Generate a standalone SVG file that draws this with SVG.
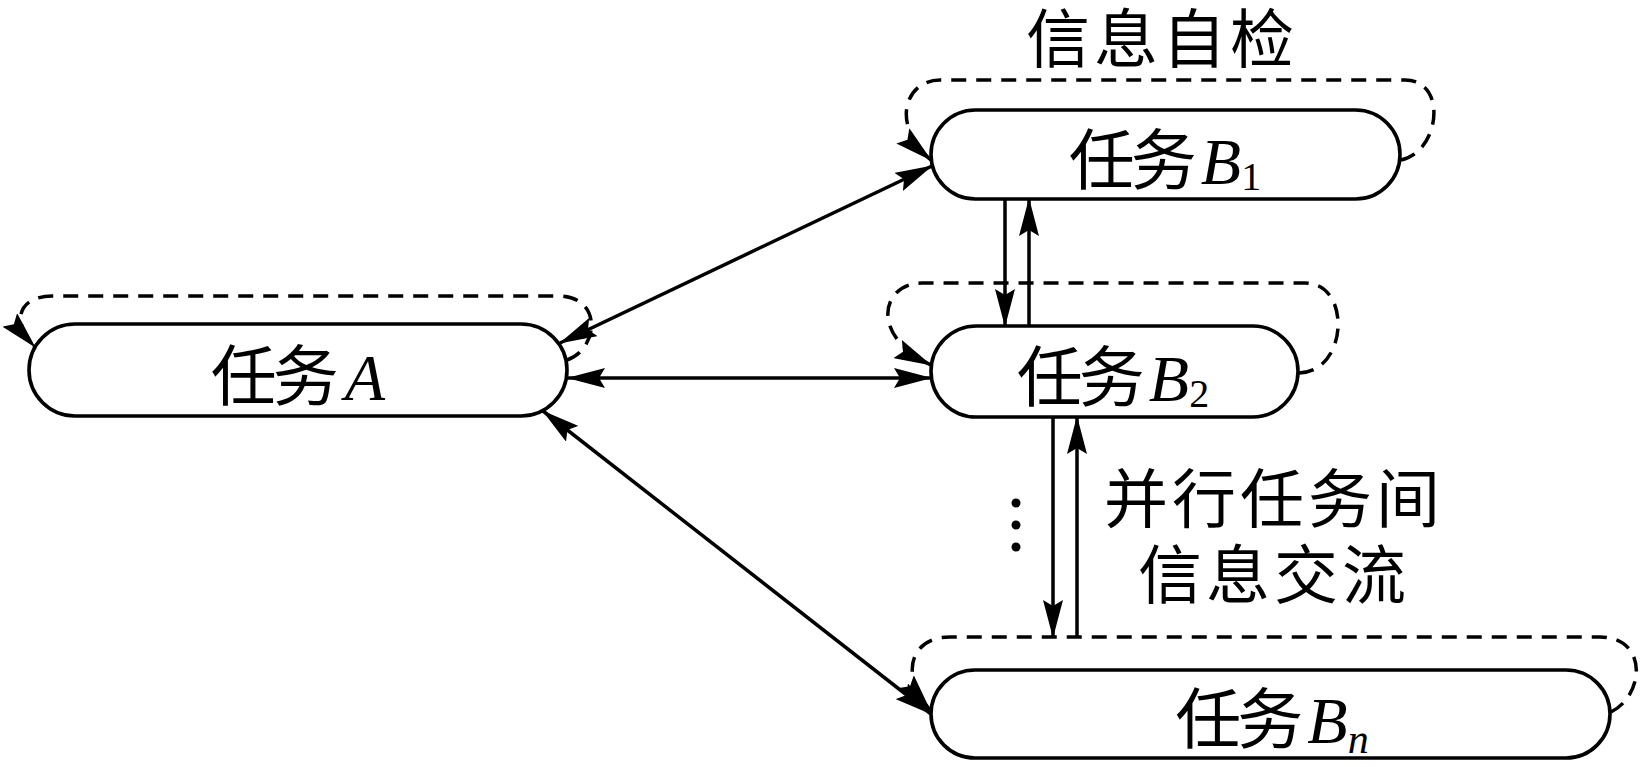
<svg xmlns="http://www.w3.org/2000/svg" width="1644" height="767" viewBox="0 0 1644 767">
<style>
.pill{fill:#fff;stroke:#000;stroke-width:3.6}
.ln{fill:none;stroke:#000;stroke-width:3.5}
.dash{fill:none;stroke:#000;stroke-width:3.5;stroke-dasharray:15 10}
.cjk{font-family:"Noto Sans CJK SC","Noto Sans CJK JP",sans-serif;fill:#000}
.lbl{font-size:66px;letter-spacing:-4px}
.note{font-size:64px;letter-spacing:4px}
.lat{font-family:"Liberation Serif","Times New Roman",serif;font-style:italic;font-size:66px;letter-spacing:0}
.sub{font-family:"Liberation Serif","Times New Roman",serif;font-style:normal;font-size:40px;letter-spacing:0}
.subi{font-family:"Liberation Serif","Times New Roman",serif;font-style:italic;font-size:42px;letter-spacing:0}
</style>
<defs>
<marker id="ah" viewBox="0 0 38 20" refX="37" refY="10" markerWidth="38" markerHeight="20" markerUnits="userSpaceOnUse" orient="auto-start-reverse">
<path d="M0,0 L38,10 L0,20 L6,10 Z" fill="#000"/>
</marker>
</defs>

<g id="title">
<text class="cjk note" x="1162" y="62" text-anchor="middle">信息自检</text>
</g>

<g id="nodeA">
<rect class="pill" x="29" y="324" width="538" height="92" rx="46" ry="46"/>
<text class="cjk lbl" x="298" y="400" text-anchor="middle">任务<tspan class="lat" dx="10">A</tspan></text>
</g>

<g id="nodeB1">
<rect class="pill" x="931" y="110" width="469" height="89" rx="44.5" ry="44.5"/>
<text class="cjk lbl" x="1165" y="184" text-anchor="middle">任务<tspan class="lat" dx="8">B</tspan><tspan class="sub" dy="6">1</tspan></text>
</g>

<g id="nodeB2">
<rect class="pill" x="931" y="326" width="367" height="91" rx="45.5" ry="45.5"/>
<text class="cjk lbl" x="1113" y="401" text-anchor="middle">任务<tspan class="lat" dx="8">B</tspan><tspan class="sub" dy="6">2</tspan></text>
</g>

<g id="nodeBn">
<rect class="pill" x="931" y="670" width="679" height="88" rx="44" ry="44"/>
<text class="cjk lbl" x="1272" y="743" text-anchor="middle">任务<tspan class="lat" dx="8">B</tspan><tspan class="subi" dy="10">n</tspan></text>
</g>

<g id="annotation">
<text class="cjk note" x="1274" y="522" text-anchor="middle">并行任务间</text>
<text class="cjk note" x="1274" y="598" text-anchor="middle">信息交流</text>
<circle cx="1016" cy="503" r="4.5" fill="#000"/>
<circle cx="1016" cy="525" r="4.5" fill="#000"/>
<circle cx="1016" cy="547" r="4.5" fill="#000"/>
</g>

<g id="connectors">
<path class="dash" d="M567,360 C598,350 604,296 558,296 L52,296 C22,296 8,318 35,347" marker-end="url(#ah)"/>
<path class="dash" d="M1401,160 C1440,152 1448,80 1405,80 L940,80 C905,80 890,125 931,160" marker-end="url(#ah)"/>
<path class="dash" d="M1299,373 C1348,372 1352,283 1305,283 L922,283 C882,283 868,335 931,365" marker-end="url(#ah)"/>
<path class="dash" d="M1611,712 C1645,695 1648,637 1600,637 L950,637 C912,637 898,672 930,710" marker-end="url(#ah)"/>
<path class="ln" d="M560,343 L932,166" marker-start="url(#ah)" marker-end="url(#ah)"/>
<path class="ln" d="M568,378 L931,378" marker-start="url(#ah)" marker-end="url(#ah)"/>
<path class="ln" d="M543,411 L931,714" marker-start="url(#ah)" marker-end="url(#ah)"/>
<path class="ln" d="M1005,199 L1005,326" marker-end="url(#ah)"/>
<path class="ln" d="M1029,326 L1029,199" marker-end="url(#ah)"/>
<path class="ln" d="M1053,417 L1053,637" marker-end="url(#ah)"/>
<path class="ln" d="M1077,637 L1077,417" marker-end="url(#ah)"/>
</g>
</svg>
